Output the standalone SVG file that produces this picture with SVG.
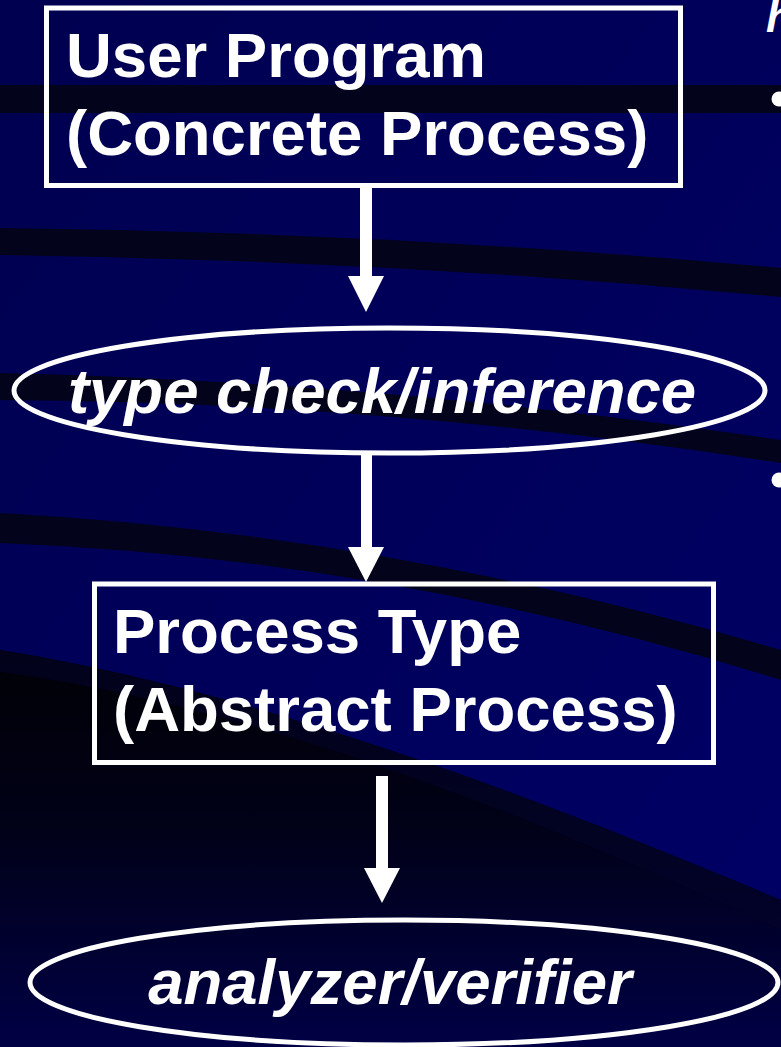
<svg xmlns="http://www.w3.org/2000/svg" width="781" height="1047" viewBox="0 0 781 1047">
<style>
.lbl{font-family:"Liberation Sans",Arial,sans-serif;font-weight:bold;font-size:63.5px;fill:#fff}
.it{font-style:italic}
.shape{fill:none;stroke:#fff;stroke-width:5}
.band{fill:#03031c}
.arrow{fill:#fff}
</style>
<defs>
<linearGradient id="lowGrad" x1="0" y1="0" x2="0" y2="1">
<stop offset="0" stop-color="#010106"/>
<stop offset="0.45" stop-color="#010118"/>
<stop offset="1" stop-color="#000045"/>
</linearGradient>
<linearGradient id="baseGrad" x1="0" y1="0" x2="1" y2="1">
<stop offset="0" stop-color="#000050"/>
<stop offset="1" stop-color="#000066"/>
</linearGradient>
</defs>
<g id="background">
<rect x="0" y="0" width="781" height="1047" fill="url(#baseGrad)"/>
<rect class="band" x="0" y="85" width="781" height="28"/>
<path class="band" d="M0,228 Q390,232 781,268 L781,297 Q390,260 0,255 Z"/>
<path class="band" d="M0,373 Q390,382 781,440 L781,463 Q390,402 0,400 Z"/>
<path class="band" d="M0,513 Q390,534 781,650 L781,680 Q390,558 0,543 Z"/>
<path d="M0,650 C250,690 520,790 781,900 L781,1047 L0,1047 Z" fill="url(#lowGrad)"/>
<path d="M0,650 C250,690 520,790 781,900 L781,930 C520,810 250,705 0,672 Z" fill="#04042a" opacity="0.6"/>
</g>
<g id="edge-text">
<text class="lbl it" x="766" y="32" style="font-size:44px">h</text>
<circle cx="779" cy="99" r="7.5" fill="#fff"/>
<circle cx="779" cy="480" r="7.5" fill="#fff"/>
</g>
<g id="connectors">
<rect class="arrow" x="360" y="186" width="12" height="91"/>
<polygon class="arrow" points="348,276 384,276 366,312"/>
<rect class="arrow" x="361" y="455" width="11" height="93"/>
<polygon class="arrow" points="348,547 384,547 366,582"/>
<rect class="arrow" x="376" y="776" width="12" height="93"/>
<polygon class="arrow" points="364,868 400,868 382,903"/>
</g>
<g id="node-user-program">
<rect class="shape" x="46.5" y="8" width="634" height="177.5"/>
<text class="lbl" x="66" y="77">User Program</text>
<text class="lbl" x="66" y="155">(Concrete Process)</text>
</g>
<g id="node-type-check">
<ellipse class="shape" cx="389.5" cy="390.5" rx="375.5" ry="62.5"/>
<text class="lbl it" x="382" y="413" text-anchor="middle">type check/inference</text>
</g>
<g id="node-process-type">
<rect class="shape" x="94.5" y="584" width="619" height="178.5"/>
<text class="lbl" x="113" y="653">Process Type</text>
<text class="lbl" x="113" y="731">(Abstract Process)</text>
</g>
<g id="node-analyzer">
<ellipse class="shape" cx="404" cy="982.5" rx="374" ry="62.5"/>
<text class="lbl it" x="390" y="1004" text-anchor="middle">analyzer/verifier</text>
</g>
</svg>
